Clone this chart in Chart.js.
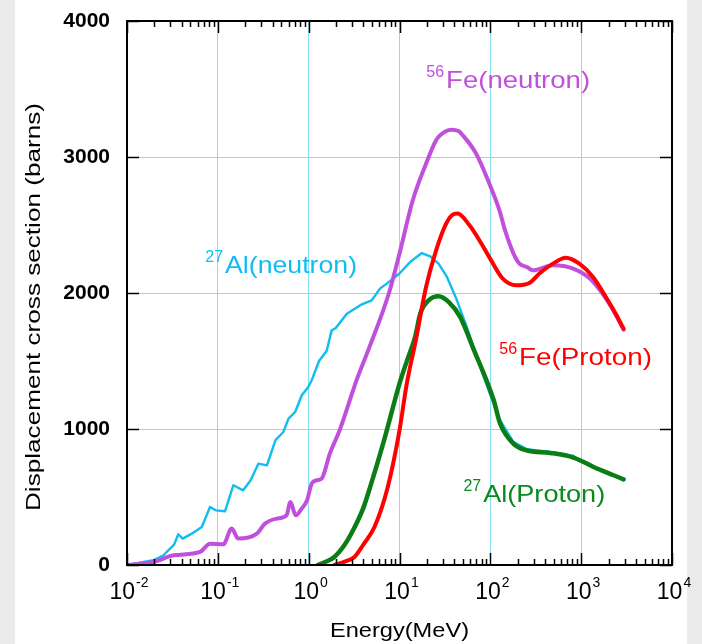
<!DOCTYPE html>
<html>
<head>
<meta charset="utf-8">
<script src="https://cdn.jsdelivr.net/npm/chart.js@4.4.0/dist/chart.umd.min.js"></script>
<style>
  html, body { margin: 0; padding: 0; background: #ebebeb; }
  canvas { display: block; }
</style>
</head>
<body>
<canvas id="chart" width="702" height="644"></canvas>
<script>
// energies in MeV, displacement cross sections in barns
const alNeutronE = [0.01, 0.0195, 0.025, 0.033, 0.0367, 0.041, 0.05, 0.0665, 0.082, 0.095, 0.12, 0.148, 0.19, 0.23, 0.279, 0.347, 0.43, 0.526, 0.6, 0.71, 0.84, 0.99, 1.08, 1.3, 1.58, 1.79, 2.0, 2.63, 3.85, 4.94, 6.1, 7.24, 10, 13.1, 17.6, 21.7, 26.9, 33.3, 42.9, 55, 65, 80, 100, 128, 179, 251, 457, 825];
const alNeutronY = [0, 35, 70, 150, 226, 194, 225, 280, 427, 402, 395, 586, 549, 623, 745, 733, 917, 978, 1076, 1125, 1248, 1309, 1358, 1500, 1576, 1725, 1745, 1848, 1917, 1946, 2032, 2069, 2143, 2228, 2294, 2270, 2216, 2118, 1946, 1750, 1610, 1430, 1250, 1065, 905, 852, 832, 802];

const feNeutronE = [0.01, 0.0195, 0.0327, 0.0637, 0.082, 0.115, 0.142, 0.168, 0.269, 0.33, 0.445, 0.57, 0.63, 0.72, 0.84, 0.96, 1.08, 1.23, 1.39, 1.71, 2.19, 2.72, 3.36, 4.6, 7.66, 10, 14, 19.6, 25.3, 28, 37, 44.6, 49.7, 69.7, 97.6, 126, 145.6, 180, 209, 252, 293, 488, 815, 1250, 1870, 2400, 2930];
const feNeutronY = [0, 22, 71, 96, 157, 152, 268, 194, 231, 304, 341, 365, 463, 365, 415, 476, 598, 623, 635, 819, 990, 1174, 1358, 1591, 2000, 2290, 2682, 2951, 3123, 3160, 3201, 3191, 3160, 3025, 2804, 2608, 2458, 2290, 2216, 2191, 2167, 2204, 2180, 2106, 1960, 1840, 1730];

const alProtonE = [1.26, 1.5, 1.92, 2.5, 3.08, 4.0, 4.74, 6.76, 10, 12.1, 14.9, 16.9, 20.9, 26.9, 34.7, 46.5, 65, 109, 128, 179, 251, 457, 825, 1370, 2275, 2930];
const alProtonY = [0, 20, 59, 150, 255, 420, 571, 917, 1334, 1503, 1680, 1848, 1946, 1976, 1934, 1824, 1591, 1211, 1040, 893, 843, 824, 790, 721, 660, 630];

const feProtonE = [1.92, 2.5, 3.19, 4.0, 5.3, 7.43, 10, 12.0, 15.0, 19.6, 25.3, 32.6, 37.7, 43.6, 58.9, 75.8, 102, 137, 192, 269, 347, 488, 677, 955, 1350, 1870, 2400, 2930];
const feProtonY = [0, 25, 59, 150, 279, 574, 990, 1330, 1640, 2044, 2314, 2510, 2571, 2584, 2498, 2388, 2240, 2106, 2057, 2074, 2143, 2216, 2260, 2216, 2118, 1971, 1848, 1738];

const xTickPowers = [-2, -1, 0, 1, 2, 3, 4];
const yTickValues = [0, 1000, 2000, 3000, 4000];

// curve labels: mass number, name, anchor energy / value (left edge, baseline)
const curveLabels = [
  { sup: '56', text: 'Fe(neutron)', e: 32.6, v: 3505, color: '#c04fdc', w: 144 },
  { sup: '27', text: 'Al(neutron)', e: 0.12, v: 2145, color: '#10bdf0', w: 132 },
  { sup: '56', text: 'Fe(Proton)', e: 207, v: 1468, color: '#ff0000', w: 133 },
  { sup: '27', text: 'Al(Proton)', e: 83.4, v: 461, color: '#0a8a1e', w: 122 }
];

const gridColor = 'rgb(135,222,238)';
const FONT = '"Liberation Sans", Arial, sans-serif';

function pts(xs, ys) {
  return xs.map((x, i) => ({ x: x, y: ys[i] }));
}

function fitText(ctx, txt, x, y, size, width, opt) {
  opt = opt || {};
  ctx.save();
  ctx.font = (opt.bold ? 'bold ' : '') + size + 'px ' + FONT;
  const w = ctx.measureText(txt).width;
  ctx.translate(x, y);
  if (opt.rotate) ctx.rotate(-Math.PI / 2);
  ctx.scale(width ? width / w : 1, 1);
  ctx.textAlign = opt.align || 'left';
  ctx.textBaseline = opt.baseline || 'alphabetic';
  ctx.fillStyle = opt.color || '#000';
  ctx.fillText(txt, 0, 0);
  ctx.restore();
}

const decor = {
  id: 'decor',
  beforeDraw(chart) {
    const ctx = chart.ctx;
    ctx.save();
    ctx.fillStyle = '#ebebeb';
    ctx.fillRect(0, 0, chart.width, chart.height);
    ctx.fillStyle = '#ffffff';
    ctx.fillRect(15, 0, 672, chart.height);
    ctx.restore();
  },
  afterDraw(chart) {
    const ctx = chart.ctx, a = chart.chartArea;
    const xs = chart.scales.x, ys = chart.scales.y;
    ctx.save();
    ctx.strokeStyle = '#000';
    ctx.lineWidth = 1.5;
    ctx.beginPath();
    // log ticks, top and bottom, pointing inwards
    for (let p = -2; p <= 4; p++) {
      for (let k = 1; k <= 9; k++) {
        const v = k * Math.pow(10, p);
        if (v > 10000) break;
        const px = Math.round(xs.getPixelForValue(v)) + 0.5;
        const len = k === 1 ? 12 : 6;
        ctx.moveTo(px, a.bottom); ctx.lineTo(px, a.bottom - len);
        ctx.moveTo(px, a.top); ctx.lineTo(px, a.top + len);
      }
    }
    yTickValues.forEach(v => {
      const py = Math.round(ys.getPixelForValue(v)) + 0.5;
      ctx.moveTo(a.left, py); ctx.lineTo(a.left + 12, py);
      ctx.moveTo(a.right, py); ctx.lineTo(a.right - 12, py);
    });
    ctx.stroke();
    ctx.lineWidth = 2;
    ctx.strokeRect(a.left, a.top, a.right - a.left, a.bottom - a.top);
    ctx.restore();

    // x tick labels 10^n
    xTickPowers.forEach(p => {
      const cx = xs.getPixelForValue(Math.pow(10, p)) + 2;
      ctx.save();
      ctx.font = '23px ' + FONT;
      const wb = ctx.measureText('10').width;
      ctx.font = '14px ' + FONT;
      const sup = String(p);
      const ws = ctx.measureText(sup).width;
      const left = cx - (wb + 1 + ws) / 2;
      ctx.fillStyle = '#000';
      ctx.font = '23px ' + FONT;
      ctx.fillText('10', left, 599);
      ctx.font = '14px ' + FONT;
      ctx.fillText(sup, left + wb + 1, 587);
      ctx.restore();
    });

    // y tick labels
    yTickValues.forEach(v => {
      fitText(ctx, String(v), 110, ys.getPixelForValue(v), 21, 0, { bold: true, align: 'right', baseline: 'middle' });
    });

    // axis titles
    fitText(ctx, 'Energy(MeV)', 330, 637, 21, 139);
    fitText(ctx, 'Displacement cross section (barns)', 40, 307, 20, 408, { rotate: true, align: 'center' });

    // curve labels
    curveLabels.forEach(l => {
      const x = xs.getPixelForValue(l.e), y = ys.getPixelForValue(l.v);
      fitText(ctx, l.text, x, y, 24, l.w, { color: l.color });
      fitText(ctx, l.sup, x - 2, y - 11.5, 16, 0, { color: l.color, align: 'right' });
    });
  }
};

const lineDs = (label, xsArr, ysArr, color, width, order, smooth) => ({
  label: label,
  data: pts(xsArr, ysArr),
  borderColor: color,
  borderWidth: width,
  showLine: true,
  pointRadius: 0,
  cubicInterpolationMode: smooth ? 'monotone' : 'default',
  tension: 0,
  fill: false,
  order: order,
  borderJoinStyle: 'round',
  borderCapStyle: 'round'
});

new Chart(document.getElementById('chart').getContext('2d'), {
  type: 'scatter',
  data: {
    datasets: [
      lineDs('56Fe(Proton)', feProtonE, feProtonY, '#ff0000', 4, 0, true),
      lineDs('27Al(Proton)', alProtonE, alProtonY, '#0a7d16', 4.5, 1, true),
      lineDs('56Fe(neutron)', feNeutronE, feNeutronY, '#c04fdc', 4, 2, true),
      lineDs('27Al(neutron)', alNeutronE, alNeutronY, '#10bdf0', 2.4, 3, false)
    ]
  },
  options: {
    responsive: false,
    animation: false,
    layout: { padding: { left: 127, right: 30, top: 21, bottom: 79 } },
    plugins: { legend: { display: false }, tooltip: { enabled: false } },
    scales: {
      x: {
        type: 'logarithmic',
        min: 0.01,
        max: 10000,
        afterBuildTicks: s => { s.ticks = xTickPowers.map(p => ({ value: Math.pow(10, p) })); },
        ticks: { display: false },
        grid: { color: gridColor, lineWidth: 1, drawTicks: false },
        border: { display: false }
      },
      y: {
        min: 0,
        max: 4000,
        afterBuildTicks: s => { s.ticks = yTickValues.map(v => ({ value: v })); },
        ticks: { display: false },
        grid: { color: gridColor, lineWidth: 1, drawTicks: false },
        border: { display: false }
      }
    }
  },
  plugins: [decor]
});
</script>
</body>
</html>
